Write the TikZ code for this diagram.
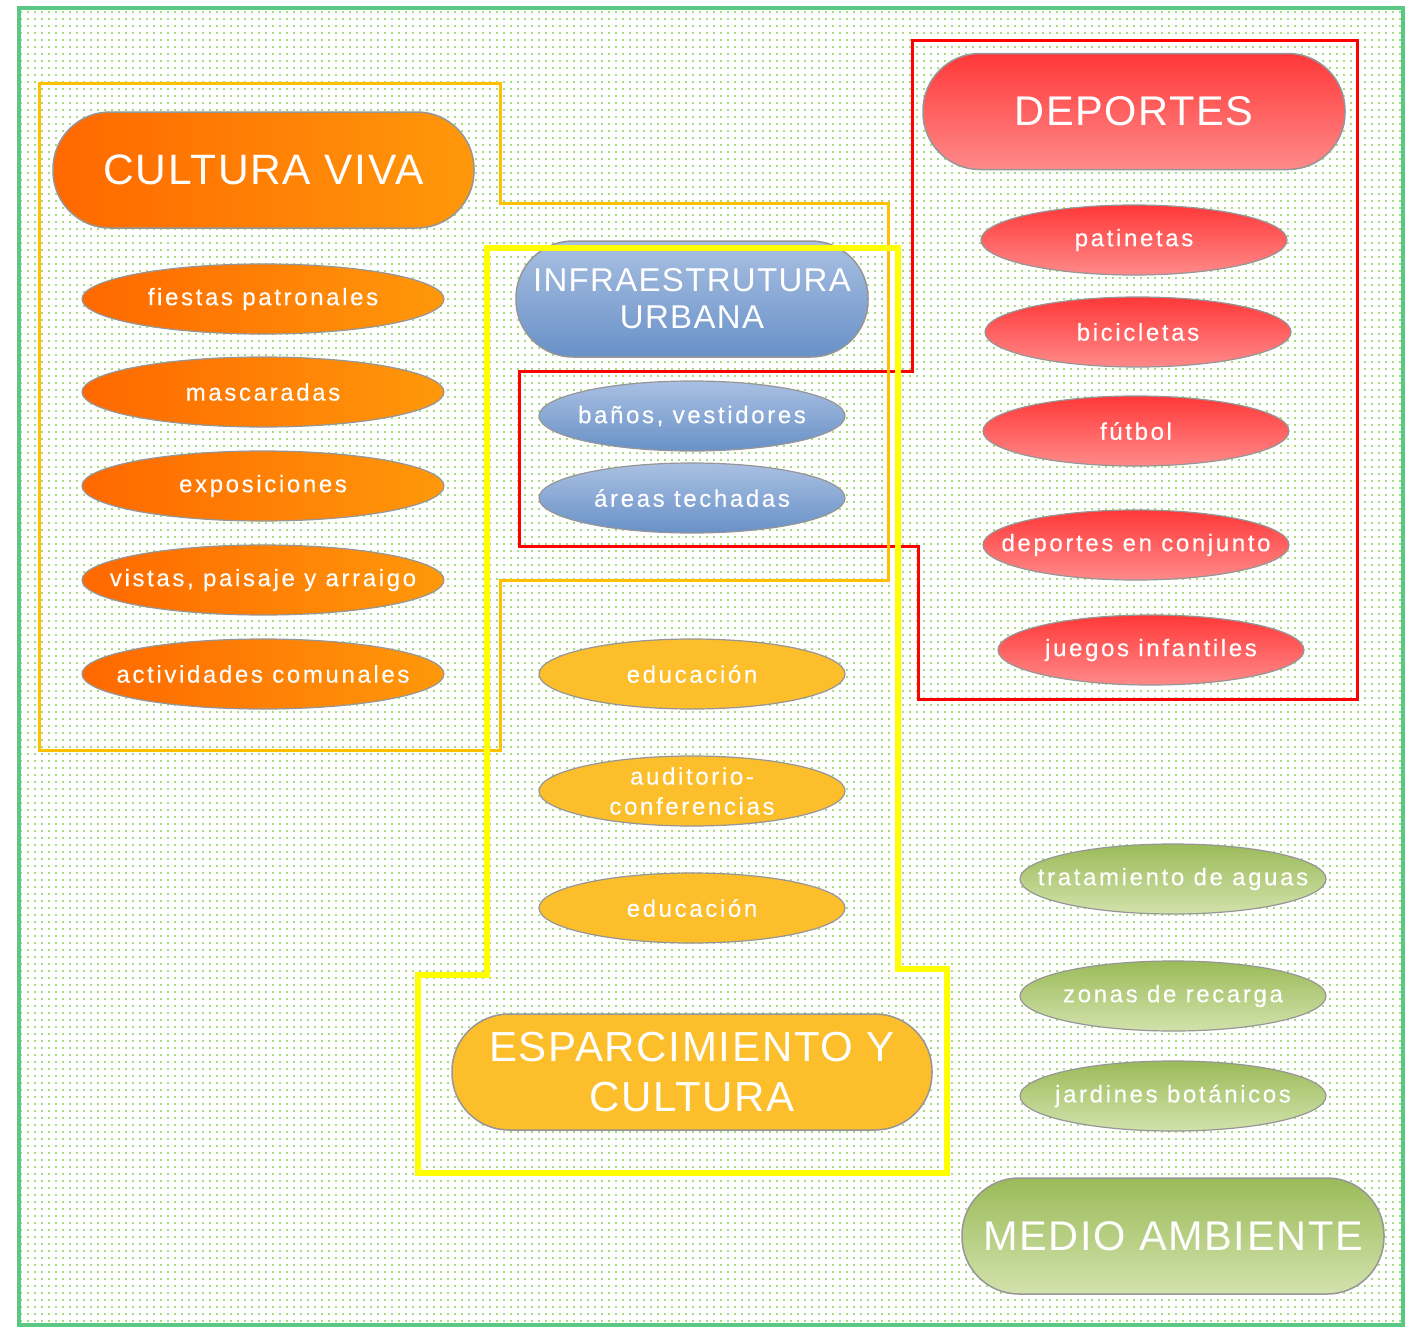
\documentclass[tikz,border=0pt]{standalone}
\usepackage{fontspec}
\setmainfont{Liberation Sans}
\newfontfamily\hdfont{Liberation Sans}[LetterSpace=4]
\newfontfamily\elfont{Liberation Sans}[LetterSpace=11,FakeBold=0.3]
\usetikzlibrary{shapes.geometric,patterns.meta}
\definecolor{dotgreen}{RGB}{135,205,85}
\definecolor{framegreen}{RGB}{90,200,130}
\definecolor{greyline}{RGB}{150,150,150}
\definecolor{orA}{RGB}{255,104,0}
\definecolor{orB}{RGB}{255,152,10}
\definecolor{blA}{RGB}{170,192,226}
\definecolor{blB}{RGB}{104,145,200}
\definecolor{gold}{RGB}{253,190,43}
\definecolor{rdA}{RGB}{255,56,56}
\definecolor{rdB}{RGB}{255,138,138}
\definecolor{gnA}{RGB}{155,187,89}
\definecolor{gnB}{RGB}{210,226,172}
\definecolor{amber}{RGB}{255,192,0}
\definecolor{yel}{RGB}{255,255,0}
\newcommand\nw[1]{\makebox[0pt]{#1}}
\tikzset{
  pill/.style={rectangle, rounded corners=57pt, minimum height=116pt, draw=greyline, line width=1.5pt, text=white, align=center, inner sep=0pt},
  oval/.style={ellipse, minimum height=70pt, draw=greyline, line width=1.2pt, text=white, align=center, inner sep=0pt,
     font=\elfont\fontsize{24}{30}\selectfont},
  orangefill/.style={shading=axis, left color=orA, right color=orB},
  bluefill/.style={shading=axis, top color=blA, bottom color=blB},
  redfill/.style={shading=axis, top color=rdA, bottom color=rdB},
  greenfill/.style={shading=axis, top color=gnA, bottom color=gnB},
  goldfill/.style={fill=gold},
  grp/.style={line join=miter}
}
\begin{document}
\begin{tikzpicture}[x=1pt,y=-1pt]
\useasboundingbox (0,0) rectangle (1409,1328);
% background
\fill[white] (0,0) rectangle (1409,1328);
\fill[pattern={Dots[distance=7pt,radius=1.1pt]}, pattern color=dotgreen] (19,8) rectangle (1403,1325);
\draw[framegreen, line width=3.5pt] (19,8) rectangle (1403,1325);

% CULTURA VIVA
\node[pill, orangefill, minimum width=421pt, font=\hdfont\fontsize{42.5}{48}\selectfont] (cv) at (263.5,170) {CULTURA VIVA};
\node[oval, orangefill, minimum width=362pt] (cv1) at (263,299) {\nw{fiestas patronales}};
\node[oval, orangefill, minimum width=362pt] (cv2) at (263,392) {\nw{mascaradas}};
\node[oval, orangefill, minimum width=362pt] (cv3) at (263,486) {\nw{exposiciones}};
\node[oval, orangefill, minimum width=362pt] (cv4) at (263,580) {\nw{vistas, paisaje y arraigo}};
\node[oval, orangefill, minimum width=362pt] (cv5) at (263,674) {\nw{actividades comunales}};

% INFRAESTRUTURA
\node[pill, bluefill, minimum width=352pt, font=\hdfont\fontsize{33}{37}\selectfont] (iu) at (692,299) {INFRAESTRUTURA\\URBANA};
\node[oval, bluefill, minimum width=306pt] (iu1) at (692,416) {\nw{baños, vestidores}};
\node[oval, bluefill, minimum width=306pt] (iu2) at (692,498) {\nw{áreas techadas}};

% ESPARCIMIENTO
\node[oval, goldfill, minimum width=306pt] (ec1) at (692,674) {\nw{educación}};
\node[oval, goldfill, minimum width=306pt] (ec2) at (692,791) {\nw{auditorio-}\\\nw{conferencias}};
\node[oval, goldfill, minimum width=306pt] (ec3) at (692,908) {\nw{educación}};
\node[pill, goldfill, minimum width=480pt, font=\hdfont\fontsize{42}{50}\selectfont] (ec) at (692,1072) {ESPARCIMIENTO Y\\CULTURA};

% DEPORTES
\node[pill, redfill, minimum width=422pt, font=\hdfont\fontsize{41.5}{48}\selectfont] (dp) at (1134,111.5) {DEPORTES};
\node[oval, redfill, minimum width=306pt] (dp1) at (1134,240) {\nw{patinetas}};
\node[oval, redfill, minimum width=306pt] (dp2) at (1138,332) {\nw{bicicletas}};
\node[oval, redfill, minimum width=306pt] (dp3) at (1136,431) {\nw{fútbol}};
\node[oval, redfill, minimum width=306pt] (dp4) at (1136,545) {\nw{deportes en conjunto}};
\node[oval, redfill, minimum width=306pt] (dp5) at (1151,650) {\nw{juegos infantiles}};

% MEDIO AMBIENTE
\node[oval, greenfill, minimum width=306pt] (ma1) at (1173,879) {\nw{tratamiento de aguas}};
\node[oval, greenfill, minimum width=306pt] (ma2) at (1173,996) {\nw{zonas de recarga}};
\node[oval, greenfill, minimum width=306pt] (ma3) at (1173,1096) {\nw{jardines botánicos}};
\node[pill, greenfill, minimum width=422pt, font=\hdfont\fontsize{41.5}{48}\selectfont] (ma) at (1173,1236) {MEDIO AMBIENTE};

% group outlines
\draw[grp, red, line width=3pt] (912,40) -- (1357,40) -- (1357,699) -- (918,699) -- (918,546) -- (519,546) -- (519,371) -- (912,371) -- cycle;
\draw[grp, amber, line width=3pt] (39,83) -- (500,83) -- (500,203) -- (888,203) -- (888,580) -- (500,580) -- (500,750) -- (39,750) -- cycle;
\draw[grp, yel, line width=6pt] (487,248) -- (898,248) -- (898,969) -- (947,969) -- (947,1173) -- (418,1173) -- (418,975) -- (487,975) -- cycle;
\end{tikzpicture}
\end{document}
